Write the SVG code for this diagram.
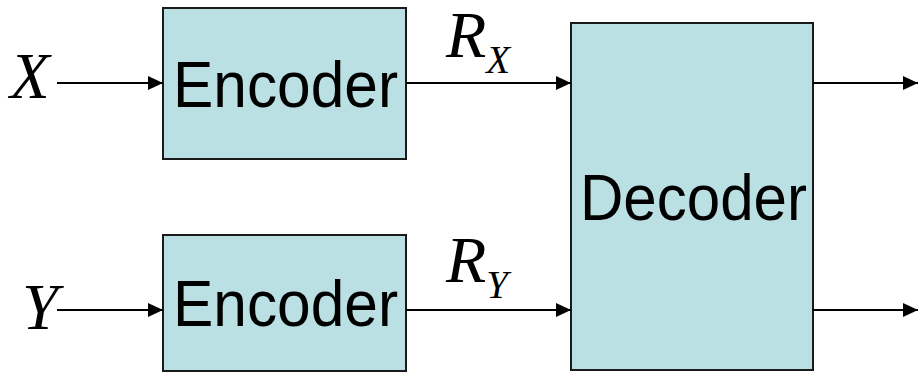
<svg xmlns="http://www.w3.org/2000/svg" width="920" height="372" viewBox="0 0 920 372">
<style>
.box{fill:#bae0e3;stroke:#1a1a1a;stroke-width:2}
.lbl{font-family:"Liberation Sans",Arial,sans-serif;font-size:64px;fill:#000;text-anchor:middle}
.var{font-family:"Liberation Serif","Times New Roman",serif;font-style:italic;fill:#000}
.conn line{stroke:#000;stroke-width:2}
</style>
<defs>
<marker id="ah" markerWidth="15" markerHeight="14" refX="15" refY="7" orient="auto" markerUnits="userSpaceOnUse">
<path d="M0,0 L15,7 L0,14 Z" fill="#000"/>
</marker>
</defs>
<rect width="920" height="372" fill="#fff"/>
<g id="enc1"><rect class="box" x="163" y="8" width="243" height="151"/><text class="lbl" x="285.5" y="107" textLength="225" lengthAdjust="spacingAndGlyphs">Encoder</text></g>
<g id="enc2"><rect class="box" x="163" y="235" width="243" height="136"/><text class="lbl" x="285.5" y="326" textLength="225" lengthAdjust="spacingAndGlyphs">Encoder</text></g>
<g id="dec"><rect class="box" x="571" y="23" width="242" height="347"/><text class="lbl" x="693.5" y="220" textLength="227" lengthAdjust="spacingAndGlyphs">Decoder</text></g>
<g id="labels">
<text class="var" x="10" y="98" font-size="65">X</text>
<text class="var" x="22" y="329" font-size="65">Y</text>
<text class="var" x="446" y="57" font-size="66">R<tspan font-size="39" dy="16">X</tspan></text>
<text class="var" x="446" y="282" font-size="66">R<tspan font-size="39" dy="16">Y</tspan></text>
</g>
<g class="conn">
<line x1="57" y1="83" x2="163" y2="83" marker-end="url(#ah)"/>
<line x1="57" y1="310" x2="163" y2="310" marker-end="url(#ah)"/>
<line x1="406" y1="83" x2="571" y2="83" marker-end="url(#ah)"/>
<line x1="406" y1="310" x2="571" y2="310" marker-end="url(#ah)"/>
<line x1="813" y1="83" x2="918" y2="83" marker-end="url(#ah)"/>
<line x1="813" y1="310" x2="918" y2="310" marker-end="url(#ah)"/>
</g>
</svg>
